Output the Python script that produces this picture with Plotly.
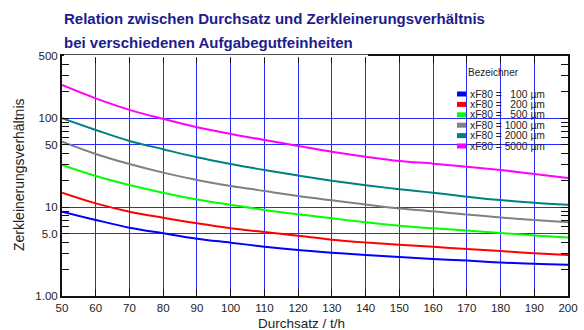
import math
import plotly.graph_objects as go

# ---------------- data ----------------
THROUGHPUT = [50, 60, 70, 80, 90, 100, 110, 120, 130, 140, 150, 160, 170, 180, 190, 200]

SERIES_LABELS = ["xF80 = \u2007100 µm", "xF80 = \u2007200 µm", "xF80 = \u2007500 µm",
                 "xF80 = 1000 µm", "xF80 = 2000 µm", "xF80 = 5000 µm"]
SERIES_COLORS = ["#0000ff", "#ff0000", "#00ff00", "#808080", "#008080", "#ff00ff"]

R_100 = [8.88, 7.16, 5.87, 5.07, 4.41, 3.98, 3.59, 3.29, 3.07, 2.89, 2.75, 2.61, 2.50, 2.38, 2.30, 2.25]
R_200 = [14.5, 11.0, 8.88, 7.60, 6.57, 5.78, 5.25, 4.75, 4.30, 4.00, 3.77, 3.57, 3.38, 3.20, 3.03, 2.89]
R_500 = [29.8, 22.4, 17.7, 14.5, 12.2, 10.6, 9.27, 8.30, 7.48, 6.75, 6.18, 5.78, 5.45, 5.10, 4.80, 4.55]
R_1000 = [54.4, 39.6, 30.5, 24.4, 20.2, 17.3, 15.2, 13.3, 11.9, 10.7, 9.65, 8.95, 8.25, 7.65, 7.15, 6.75]
R_2000 = [100, 73.7, 55.4, 44.7, 36.3, 30.5, 26.1, 22.6, 19.8, 17.6, 15.9, 14.5, 13.1, 12.0, 11.2, 10.6]
R_5000 = [236, 167, 124, 98, 79, 66.4, 56.9, 48.7, 42.0, 36.9, 33.0, 30.8, 28.4, 26.1, 23.6, 21.2]
SERIES_VALUES = [R_100, R_200, R_500, R_1000, R_2000, R_5000]

X_TICKS = list(range(50, 201, 10))
Y_LABEL_VALS = [1, 5, 10, 50, 100, 500]
Y_LABEL_TEXT = ["1.00", "5.0", "10", "50", "100", "500"]
Y_MINOR = [2, 3, 4, 6, 7, 8, 9, 20, 30, 40, 60, 70, 80, 90, 200, 300, 400]
X_RANGE = [50, 200]
Y_RANGE = [1, 500]

TITLE_1 = "Relation zwischen Durchsatz und Zerkleinerungsverhältnis"
TITLE_2 = "bei verschiedenen Aufgabegutfeinheiten"
X_TITLE = "Durchsatz / t/h"
Y_TITLE = "Zerkleinerungsverhältnis"
LEGEND_TITLE = "Bezeichner"

# ---------------- figure ----------------
W, H = 584, 330
ML, MR, MT, MB = 62, 16, 56, 34
PW, PH = W - ML - MR, H - MT - MB
FONT = "Liberation Sans, Arial, sans-serif"
GRID_COLOR = "#2a2aff"
AXIS_COLOR = "#111"


def px_x(px):
    return (px - ML) / PW


def px_y(py):
    return (H - MB - py) / PH


fig = go.Figure()
for name, color, vals in zip(SERIES_LABELS, SERIES_COLORS, SERIES_VALUES):
    fig.add_trace(go.Scatter(x=THROUGHPUT, y=vals, mode="lines", name=name,
                             line=dict(color=color, width=2, shape="spline"),
                             showlegend=False, hoverinfo="skip"))

yr = [math.log10(Y_RANGE[0]), math.log10(Y_RANGE[1])]

fig.update_layout(
    template="none",
    width=W, height=H,
    margin=dict(l=ML, r=MR, t=MT, b=MB, pad=0, autoexpand=False),
    paper_bgcolor="white", plot_bgcolor="white",
    font=dict(family=FONT, size=11, color="#222"),
    showlegend=False,
    xaxis=dict(range=X_RANGE, tickvals=X_TICKS, ticks="inside", ticklen=7,
               tickcolor=AXIS_COLOR, tickwidth=1, showline=True, linecolor=AXIS_COLOR,
               linewidth=2, mirror="ticks", showgrid=True, gridcolor=GRID_COLOR,
               gridwidth=1, zeroline=False, automargin=False,
               tickfont=dict(size=11.5, color="#222")),
    yaxis=dict(type="log", range=yr, tickvals=Y_LABEL_VALS, ticktext=Y_LABEL_TEXT,
               ticks="inside", ticklen=7, tickcolor=AXIS_COLOR, tickwidth=1,
               minor=dict(tickmode="array", tickvals=Y_MINOR, ticks="inside",
                          ticklen=7, tickcolor=AXIS_COLOR, tickwidth=1, showgrid=False),
               showline=True, linecolor=AXIS_COLOR, linewidth=2, mirror="ticks",
               showgrid=True, gridcolor=GRID_COLOR, gridwidth=1,
               zeroline=False, automargin=False,
               tickfont=dict(size=11.5, color="#222")),
)

shapes = []
# white legend box covering grid
shapes.append(dict(type="rect", xref="paper", yref="paper",
                   x0=px_x(445), x1=px_x(553), y0=px_y(155), y1=px_y(56),
                   fillcolor="white", line=dict(width=0), layer="between"))
# hide the left part of the top frame line (reference shows it only on the right)
shapes.append(dict(type="line", xref="paper", yref="paper",
                   x0=px_x(64), x1=px_x(368), y0=1, y1=1,
                   line=dict(color="white", width=2.5), layer="above"))

annotations = []
annotations.append(dict(text="<b>%s</b>" % TITLE_1, xref="paper", yref="paper",
                        x=px_x(62), y=px_y(18.5), xanchor="left", yanchor="middle",
                        showarrow=False, font=dict(size=15, color="#1c1c8e", family=FONT)))
annotations.append(dict(text="<b>%s</b>" % TITLE_2, xref="paper", yref="paper",
                        x=px_x(62), y=px_y(42), xanchor="left", yanchor="middle",
                        showarrow=False, font=dict(size=15, color="#1c1c8e", family=FONT)))
annotations.append(dict(text=X_TITLE, xref="paper", yref="paper", x=px_x(301), y=px_y(323),
                        xanchor="center", yanchor="middle", showarrow=False,
                        font=dict(size=13.5, color="#222", family=FONT)))
annotations.append(dict(text=Y_TITLE, xref="paper", yref="paper", x=px_x(19), y=px_y(175),
                        xanchor="center", yanchor="middle", showarrow=False, textangle=-90,
                        font=dict(size=14, color="#222", family=FONT)))
annotations.append(dict(text=LEGEND_TITLE, xref="paper", yref="paper", x=px_x(493), y=px_y(72),
                        xanchor="center", yanchor="middle", showarrow=False,
                        font=dict(size=10, color="#222", family=FONT)))

row0, row_step = 94, 10.4
for i, (name, color) in enumerate(zip(SERIES_LABELS, SERIES_COLORS)):
    yc = row0 + i * row_step
    shapes.append(dict(type="rect", xref="paper", yref="paper",
                       x0=px_x(457), x1=px_x(466), y0=px_y(yc + 2.5), y1=px_y(yc - 2.5),
                       fillcolor=color, line=dict(width=0), layer="above"))
    annotations.append(dict(text=name, xref="paper", yref="paper", x=px_x(467.5), y=px_y(yc),
                            xanchor="left", yanchor="middle", showarrow=False,
                            font=dict(size=10.3, color="#222", family=FONT)))

fig.update_layout(shapes=shapes, annotations=annotations)
fig.write_html("out.html", config={"displayModeBar": False},
               post_script="document.body.style.margin='0';document.body.style.overflow='hidden';")
